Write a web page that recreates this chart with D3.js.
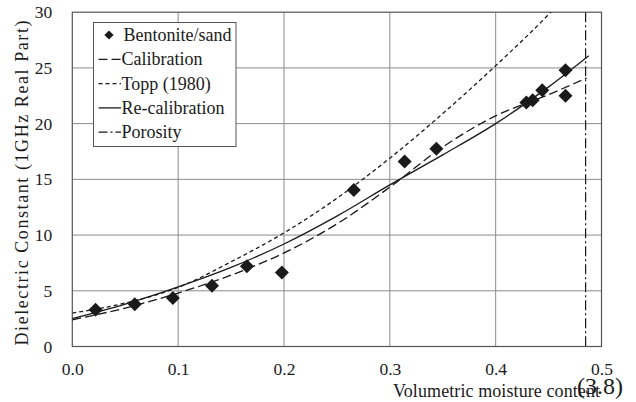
<!DOCTYPE html>
<html><head><meta charset="utf-8">
<script src="https://cdn.jsdelivr.net/npm/d3@7"></script>
</head><body style="margin:0">
<svg id="chart" width="636" height="402" font-family="Liberation Serif" style="display:block;background:#fff"></svg>
<script>
// ---- data ----
const sampleTheta = [0.022, 0.059, 0.095, 0.132, 0.165, 0.198, 0.266, 0.314, 0.344, 0.429, 0.435, 0.444, 0.466, 0.466];
const sampleEps   = [3.3, 3.8, 4.35, 5.45, 7.2, 6.65, 14.05, 16.6, 17.75, 21.9, 22.1, 23.0, 24.8, 22.5];

const calibTheta = [0, 0.05, 0.1, 0.15, 0.2, 0.25, 0.3, 0.35, 0.4, 0.45, 0.486];
const calibEps   = [2.4, 3.45, 4.8, 6.4, 8.4, 11.0, 14.3, 17.9, 20.7, 22.6, 24.1];

const toppTheta = [0, 0.05, 0.1, 0.15, 0.2, 0.25, 0.3, 0.35, 0.4, 0.45, 0.46];
const toppEps   = [3.0, 3.9, 5.3, 7.6, 10.2, 13.3, 16.9, 20.9, 25.2, 29.8, 30.8];

const recalTheta = [0, 0.05, 0.1, 0.15, 0.2, 0.25, 0.3, 0.35, 0.4, 0.45, 0.488];
const recalEps   = [2.5, 3.8, 5.35, 7.1, 9.2, 11.7, 14.5, 17.2, 20.0, 23.3, 26.1];

const porosity = 0.485;

const xTicks = [0, 0.1, 0.2, 0.3, 0.4, 0.5];
const yTicks = [0, 5, 10, 15, 20, 25, 30];
const legendLabels = ["Bentonite/sand", "Calibration", "Topp (1980)", "Re-calibration", "Porosity"];

// ---- layout ----
const FONT = '"Liberation Serif"';
const svg = d3.select("#chart");
const L = 72.3, R = 601.5, T = 12.2, B = 346.5;
const x = d3.scaleLinear().domain([0, 0.5]).range([L, R]);
const y = d3.scaleLinear().domain([0, 30]).range([B, T]);
const ink = "#1a1a1a";

svg.append("defs").append("clipPath").attr("id", "clip")
  .append("rect").attr("x", L).attr("y", T).attr("width", R - L).attr("height", B - T);

// gridlines
const grid = svg.append("g");
grid.selectAll(".vg").data(xTicks.slice(1, -1)).join("line")
  .attr("x1", d => x(d)).attr("x2", d => x(d)).attr("y1", T).attr("y2", B)
  .attr("stroke", "#8a8a8a").attr("stroke-width", 1);
grid.selectAll(".hg").data(yTicks.slice(1, -1)).join("line")
  .attr("x1", L).attr("x2", R).attr("y1", d => y(d)).attr("y2", d => y(d))
  .attr("stroke", "#8a8a8a").attr("stroke-width", 1);

// axes (labels only, no tick marks)
const xAxis = svg.append("g").attr("transform", `translate(0,${B})`)
  .call(d3.axisBottom(x).tickValues(xTicks).tickFormat(d3.format(".1f")).tickSize(0).tickPadding(16));
xAxis.attr("font-family", null).attr("font-size", null);
xAxis.select(".domain").remove();
xAxis.selectAll("text").style("font-family", FONT).attr("font-size", 17.5).attr("fill", ink);

const yAxis = svg.append("g").attr("transform", `translate(${L},0)`)
  .call(d3.axisLeft(y).tickValues(yTicks).tickFormat(d3.format("d")).tickSize(0).tickPadding(20));
yAxis.attr("font-family", null).attr("font-size", null);
yAxis.select(".domain").remove();
yAxis.selectAll("text").style("font-family", FONT).attr("font-size", 17.5).attr("fill", ink);

// frame
svg.append("rect").attr("x", L).attr("y", T).attr("width", R - L).attr("height", B - T)
  .attr("fill", "none").attr("stroke", "#555").attr("stroke-width", 1.2);

// lines
const plot = svg.append("g").attr("clip-path", "url(#clip)");
const lineGen = d3.line().x(d => x(d[0])).y(d => y(d[1])).curve(d3.curveMonotoneX);
const zip = (a, b) => a.map((v, i) => [v, b[i]]);

plot.append("path").datum(zip(toppTheta, toppEps)).attr("d", lineGen)
  .attr("fill", "none").attr("stroke", ink).attr("stroke-width", 1.3).attr("stroke-dasharray", "4,3");
plot.append("path").datum(zip(calibTheta, calibEps)).attr("d", lineGen)
  .attr("fill", "none").attr("stroke", ink).attr("stroke-width", 1.3).attr("stroke-dasharray", "9,4");
plot.append("path").datum(zip(recalTheta, recalEps)).attr("d", lineGen)
  .attr("fill", "none").attr("stroke", ink).attr("stroke-width", 1.3);
plot.append("line").attr("x1", x(porosity)).attr("x2", x(porosity)).attr("y1", T).attr("y2", B)
  .attr("stroke", ink).attr("stroke-width", 1.2).attr("stroke-dasharray", "10,3,2,3");

// points
const diamond = (s) => `M0,${-s}L${s},0L0,${s}L${-s},0Z`;
plot.selectAll(".pt").data(zip(sampleTheta, sampleEps)).join("path")
  .attr("transform", d => `translate(${x(d[0])},${y(d[1])})`)
  .attr("d", diamond(7)).attr("fill", ink);

// legend
const lg = svg.append("g");
const lx = 93.5, ly = 22.5, lw = 142.5, rowH = 24.3;
lg.append("rect").attr("x", lx).attr("y", ly).attr("width", lw).attr("height", 124)
  .attr("fill", "#fff").attr("stroke", "#555").attr("stroke-width", 1);
const dashes = [null, "9,4", "4,3", null, "9,3,2,3"];
legendLabels.forEach((lab, i) => {
  const cy = 35 + i * rowH;
  if (i === 0) {
    lg.append("path").attr("transform", `translate(109,${cy})`).attr("d", diamond(4.6)).attr("fill", ink);
  } else {
    const ln = lg.append("line").attr("x1", 98.5).attr("x2", 121).attr("y1", cy).attr("y2", cy)
      .attr("stroke", ink).attr("stroke-width", 1.3);
    if (dashes[i]) ln.attr("stroke-dasharray", dashes[i]);
  }
  lg.append("text").attr("x", i === 0 ? 123.5 : 121.5).attr("y", cy + 6)
    .style("font-family", FONT).attr("font-size", 18).attr("fill", ink).text(lab);
});

// axis titles
svg.append("text").attr("transform", "translate(28,183) rotate(-90)")
  .attr("text-anchor", "middle").style("font-family", FONT).attr("font-size", 18).attr("fill", ink)
  .attr("textLength", 325).attr("lengthAdjust", "spacing")
  .text("Dielectric Constant (1GHz Real Part)");
svg.append("text").attr("x", 393).attr("y", 397)
  .style("font-family", FONT).attr("font-size", 18).attr("fill", ink)
  .attr("textLength", 207).attr("lengthAdjust", "spacing")
  .text("Volumetric moisture content");
svg.append("text").attr("x", 577).attr("y", 394)
  .style("font-family", FONT).attr("font-size", 24).attr("fill", ink).text("(3.8)");
</script>
</body></html>
